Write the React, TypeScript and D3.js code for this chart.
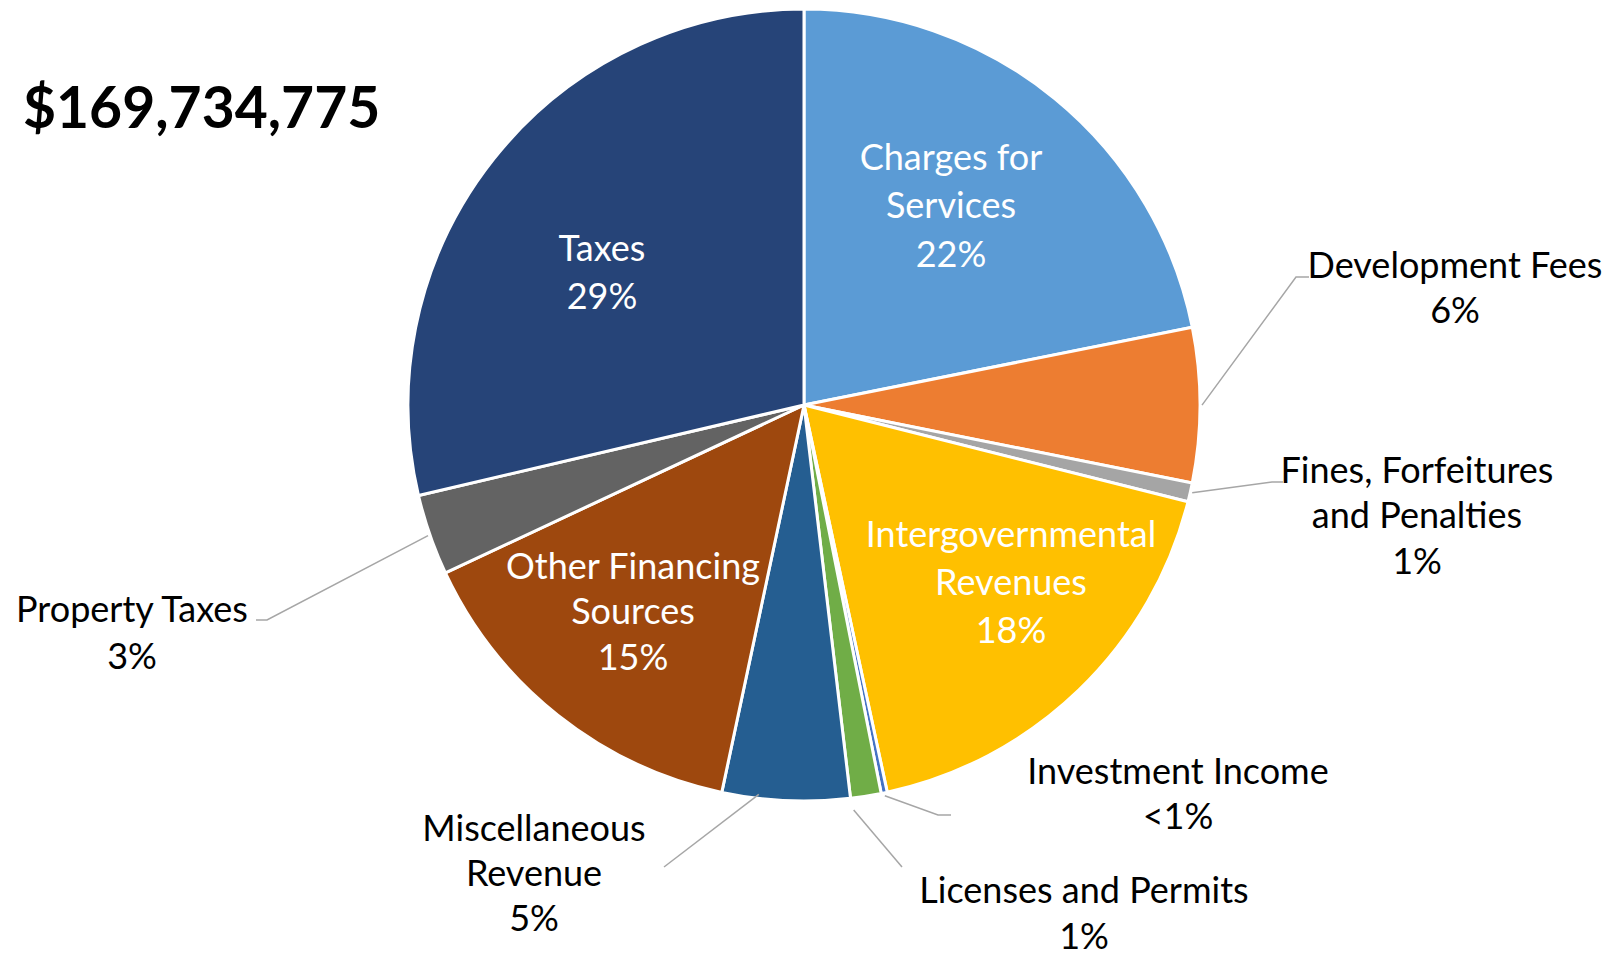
import React, { useEffect, useRef } from 'react';
import * as d3 from 'd3';

// Revenue sources, clockwise from 12 o'clock (amounts in $ millions)
const categories = [
  'Charges for Services',
  'Development Fees',
  'Fines, Forfeitures and Penalties',
  'Intergovernmental Revenues',
  'Investment Income',
  'Licenses and Permits',
  'Miscellaneous Revenue',
  'Other Financing Sources',
  'Property Taxes',
  'Taxes',
];
const amounts = [37.09, 10.69, 1.32, 30.04, 0.42, 2.12, 8.83, 24.95, 5.6, 48.66];
const labelLines = [
  ['Charges for', 'Services'],
  ['Development Fees'],
  ['Fines, Forfeitures', 'and Penalties'],
  ['Intergovernmental', 'Revenues'],
  ['Investment Income'],
  ['Licenses and Permits'],
  ['Miscellaneous', 'Revenue'],
  ['Other Financing', 'Sources'],
  ['Property Taxes'],
  ['Taxes'],
];
const totalLabel = '$169,734,775';

const colors = [
  '#5B9BD5', '#ED7D31', '#A5A5A5', '#FFC000', '#4472C4',
  '#70AD47', '#255E91', '#9E480E', '#636363', '#264478',
];

// label placement (first line centre, line step) and leader line routing
type Layout = {
  x: number; y: number; step: number; inside?: boolean;
  leader?: { shift: number; dr: number; elbow: [number, number]; end?: [number, number] };
};
const layout: Layout[] = [
  { x: 951, y: 157, step: 48.5, inside: true },
  { x: 1455, y: 265, step: 45, leader: { shift: 0, dr: 2, elbow: [1296, 277], end: [1309, 277] } },
  { x: 1417, y: 470, step: 45.5, leader: { shift: 0, dr: 2, elbow: [1272, 482], end: [1283, 482] } },
  { x: 1011, y: 534, step: 48, inside: true },
  { x: 1178, y: 771, step: 45.5, leader: { shift: 0, dr: 3, elbow: [938, 815], end: [951, 815] } },
  { x: 1084, y: 890, step: 46.5, leader: { shift: 2, dr: 12, elbow: [902, 867] } },
  { x: 534, y: 828, step: 45, leader: { shift: 4, dr: -4, elbow: [664, 867] } },
  { x: 633, y: 566, step: 45.6, inside: true },
  { x: 132, y: 609, step: 47, leader: { shift: 0, dr: 2, elbow: [267, 620], end: [256, 620] } },
  { x: 602, y: 248, step: 48, inside: true },
];

const W = 1606;
const H = 953;
const CX = 804;
const CY = 405;
const R = 396;
const FONT = 'Lato, "Open Sans", sans-serif';

const App: React.FC = () => {
  const svgRef = useRef<SVGSVGElement>(null);

  useEffect(() => {
    if (!svgRef.current) return;
    const svg = d3.select(svgRef.current);
    svg.selectAll('*').remove();

    const total = d3.sum(amounts);
    const pct = (v: number) => (v / total < 0.005 ? '<1%' : `${Math.round((v / total) * 100)}%`);

    const pie = d3.pie<number>().sort(null).value(d => d).startAngle(0).endAngle(2 * Math.PI);
    const arcs = pie(amounts);
    const arc = d3.arc<d3.PieArcDatum<number>>().innerRadius(0).outerRadius(R);

    const g = svg.append('g').attr('transform', `translate(${CX},${CY})`);
    g.selectAll('path.slice')
      .data(arcs)
      .join('path')
      .attr('class', 'slice')
      .attr('d', arc)
      .attr('fill', (_, i) => colors[i])
      .attr('stroke', '#fff')
      .attr('stroke-width', 3)
      .attr('stroke-linejoin', 'round');

    // leader lines
    arcs.forEach((a, i) => {
      const lead = layout[i].leader;
      if (!lead) return;
      const ang = (a.startAngle + a.endAngle) / 2 + (lead.shift * Math.PI) / 180;
      const r = R + lead.dr;
      const sx = CX + r * Math.sin(ang);
      const sy = CY - r * Math.cos(ang);
      const pts: [number, number][] = [[sx, sy], lead.elbow];
      if (lead.end) pts.push(lead.end);
      svg.append('path')
        .attr('d', d3.line()(pts))
        .attr('fill', 'none')
        .attr('stroke', '#A6A6A6')
        .attr('stroke-width', 1.5);
    });

    // labels
    categories.forEach((c, i) => {
      const L = layout[i];
      const lines = [...labelLines[i], pct(amounts[i])];
      const t = svg.append('text')
        .attr('text-anchor', 'middle')
        .attr('font-family', FONT)
        .attr('font-size', 36)
        .attr('fill', L.inside ? '#fff' : '#000');
      lines.forEach((ln, k) => {
        t.append('tspan')
          .attr('x', L.x)
          .attr('y', L.y + k * L.step)
          .attr('dy', '0.35em')
          .text(ln);
      });
      t.append('title').text(c);
    });

    svg.append('text')
      .attr('x', 23)
      .attr('y', 128)
      .attr('font-family', FONT)
      .attr('font-weight', 'bold')
      .attr('font-size', 57)
      .attr('fill', '#000')
      .text(totalLabel);
  }, []);

  return (
    <div style={{ position: 'fixed', left: 0, top: 0, width: W, height: H, background: '#fff' }}>
      <svg ref={svgRef} width={W} height={H} />
    </div>
  );
};

export default App;
